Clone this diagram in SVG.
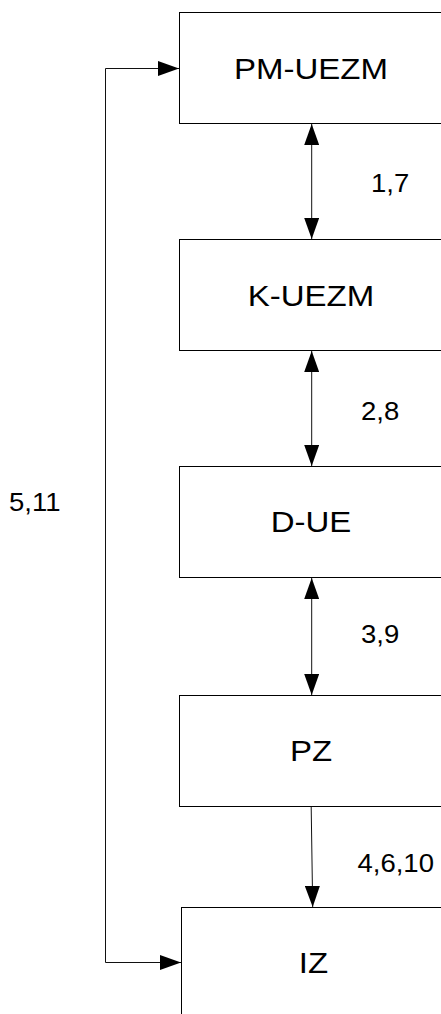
<svg xmlns="http://www.w3.org/2000/svg" width="441" height="1014" viewBox="0 0 441 1014">
<style>
.box{fill:#fff;stroke:#000;stroke-width:1}
.t{font-family:"Liberation Sans",Arial,sans-serif;font-size:30px;fill:#000;text-anchor:middle}
.l{font-family:"Liberation Sans",Arial,sans-serif;font-size:25px;fill:#000}
.c{fill:none;stroke:#111;stroke-width:1}
</style>
<defs>
<marker id="ah" viewBox="0 0 21 15" refX="21" refY="7.5" markerWidth="21" markerHeight="15" markerUnits="userSpaceOnUse" orient="auto-start-reverse">
<path d="M0,0 L21,7.5 L0,15 z" fill="#000"/>
</marker>
</defs>
<rect width="441" height="1014" fill="#fff"/>
<g id="pm-uezm"><rect class="box" x="179.5" y="12.5" width="300" height="111"/><text class="t" transform="translate(311,78.5) scale(1.1,1)">PM-UEZM</text></g>
<g id="k-uezm"><rect class="box" x="179.5" y="239.5" width="300" height="111"/><text class="t" transform="translate(311,306) scale(1.1,1)">K-UEZM</text></g>
<g id="d-ue"><rect class="box" x="179.5" y="466.5" width="300" height="111"/><text class="t" transform="translate(311,532) scale(1.1,1)">D-UE</text></g>
<g id="pz"><rect class="box" x="179.5" y="695.5" width="300" height="111"/><text class="t" transform="translate(311,761) scale(1.1,1)">PZ</text></g>
<g id="iz"><rect class="box" x="181.5" y="907.5" width="300" height="140"/><text class="t" transform="translate(313.5,972.5) scale(1.1,1)">IZ</text></g>
<g id="connectors">
<line class="c" x1="311.7" y1="124" x2="311.7" y2="239" marker-start="url(#ah)" marker-end="url(#ah)"/>
<line class="c" x1="311.7" y1="351" x2="311.7" y2="466" marker-start="url(#ah)" marker-end="url(#ah)"/>
<line class="c" x1="311.7" y1="578" x2="311.7" y2="695" marker-start="url(#ah)" marker-end="url(#ah)"/>
<line class="c" x1="311.2" y1="807" x2="312.7" y2="907" marker-end="url(#ah)"/>
<polyline class="c" points="179,68.5 105.5,68.5 105.5,962.5 181,962.5" marker-start="url(#ah)" marker-end="url(#ah)"/>
</g>
<g id="labels">
<text class="l" transform="translate(371,192) scale(1.1,1)">1,7</text>
<text class="l" transform="translate(361,420) scale(1.1,1)">2,8</text>
<text class="l" transform="translate(361,643) scale(1.1,1)">3,9</text>
<text class="l" transform="translate(357.5,872) scale(1.1,1)">4,6,10</text>
<text class="l" transform="translate(9,511) scale(1.1,1)">5,11</text>
</g>
</svg>
